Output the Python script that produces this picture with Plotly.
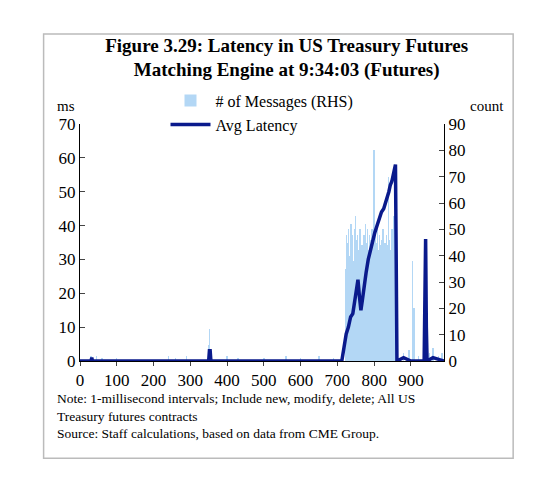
import plotly.graph_objects as go

# Messages per 1 ms interval (RHS), sparse: time (ms) and count
msg_t = [30, 45, 60, 100, 240, 260, 290, 350, 352, 355, 400, 430, 500, 560, 600, 650, 690,
         722, 725, 728, 731, 734, 737, 740, 743, 746, 749, 752, 755, 758, 761, 764, 767, 770,
         773, 776, 779, 782, 785, 788, 791, 794, 797, 800, 803, 806, 809, 812, 815, 818, 821,
         824, 827, 830, 833, 836, 839, 842, 845, 848, 851, 854, 857,
         880, 895, 905, 908, 920, 950, 960, 975, 985]
msg_c = [2, 2, 1, 1, 2, 1, 2, 6, 12, 4, 2, 1, 1, 2, 1, 2, 1,
         35, 48, 45, 50, 40, 52, 48, 38, 50, 55, 46, 48, 42, 50, 36, 44, 40,
         48, 52, 45, 50, 42, 48, 46, 50, 44, 80, 48, 45, 50, 42, 48, 44, 46,
         50, 42, 45, 48, 44, 70, 46, 42, 50, 45, 55, 48,
         3, 4, 38, 20, 2, 3, 5, 2, 3]

# Average latency (ms, LHS)
lat_t = [0, 30, 32, 34, 100, 350, 352, 354, 356, 700, 712, 718, 724, 730, 736, 742, 748, 752, 756,
         760, 764, 768, 772, 778, 784, 790, 796, 802, 808, 814, 820, 826, 832, 836, 840, 844,
         848, 852, 856, 858, 860, 862, 880, 900, 936, 938, 940, 942, 944, 960, 990]
lat_v = [0, 0, 1, 0, 0, 0, 3, 3, 0, 0, 0, 4, 8, 10, 13, 14, 18, 20, 24,
         19, 15, 18, 22, 26, 30, 33, 36, 38, 40, 42, 44, 45, 47, 48, 50, 52,
         53, 55, 57, 58, 30, 0, 1, 0, 0, 35, 36, 10, 0, 1, 0]

fig = go.Figure()
fig.add_bar(x=msg_t, y=msg_c, name="# of Messages (RHS)", yaxis="y",
            marker=dict(color="#b3d7f5", line_width=0), width=1.2)
fig.add_scatter(x=lat_t, y=lat_v, name="Avg Latency", mode="lines", yaxis="y2",
                line=dict(color="#0a1a8c", width=3.5))

serif = "Liberation Serif"
fig.update_layout(
    width=536, height=485, paper_bgcolor="white", plot_bgcolor="white",
    margin=dict(l=72, r=100, t=116, b=132, autoexpand=False),
    font=dict(family=serif, size=17, color="black"),
    title=dict(text="<b>Figure 3.29: Latency in US Treasury Futures<br>Matching Engine at 9:34:03 (Futures)</b>",
               x=0.52, xanchor="center", y=0.91, yanchor="top", font=dict(size=19)),
    showlegend=True,
    legend=dict(x=0.5, xanchor="center", y=1.17, yanchor="top", bgcolor="rgba(0,0,0,0)",
                font=dict(size=16), tracegroupgap=0, itemwidth=40),
    bargap=0,
    xaxis=dict(range=[0, 990], tickvals=list(range(0, 1000, 100)), showline=True,
               linecolor="black", ticks="outside", ticklen=4, showgrid=False, zeroline=False),
    yaxis=dict(range=[0, 90], dtick=10, side="right", showline=True,
               linecolor="black", ticks="inside", ticklen=5, showgrid=False, zeroline=False),
    yaxis2=dict(range=[0, 70], dtick=10, overlaying="y", side="left", showline=True,
                linecolor="black", ticks="inside", ticklen=5, showgrid=False, zeroline=False),
    annotations=[
        dict(text="ms", xref="paper", yref="paper", x=-0.07, y=1.12, showarrow=False, xanchor="left",
             font=dict(size=15)),
        dict(text="count", xref="paper", yref="paper", x=1.17, y=1.12, showarrow=False, xanchor="right",
             font=dict(size=15)),
        dict(text="Note: 1-millisecond intervals; Include new, modify, delete; All US<br>Treasury futures contracts<br>Source: Staff calculations, based on data from CME Group.",
             xref="paper", yref="paper", x=-0.07, y=-0.12, showarrow=False, xanchor="left", yanchor="top",
             align="left", font=dict(size=13.5)),
    ],
    shapes=[dict(type="rect", xref="paper", yref="paper", x0=-0.1, x1=1.19, y0=-0.41, y1=1.38,
                 line=dict(color="#bbbbbb", width=1.5))],
)
fig.write_html("out.html")
